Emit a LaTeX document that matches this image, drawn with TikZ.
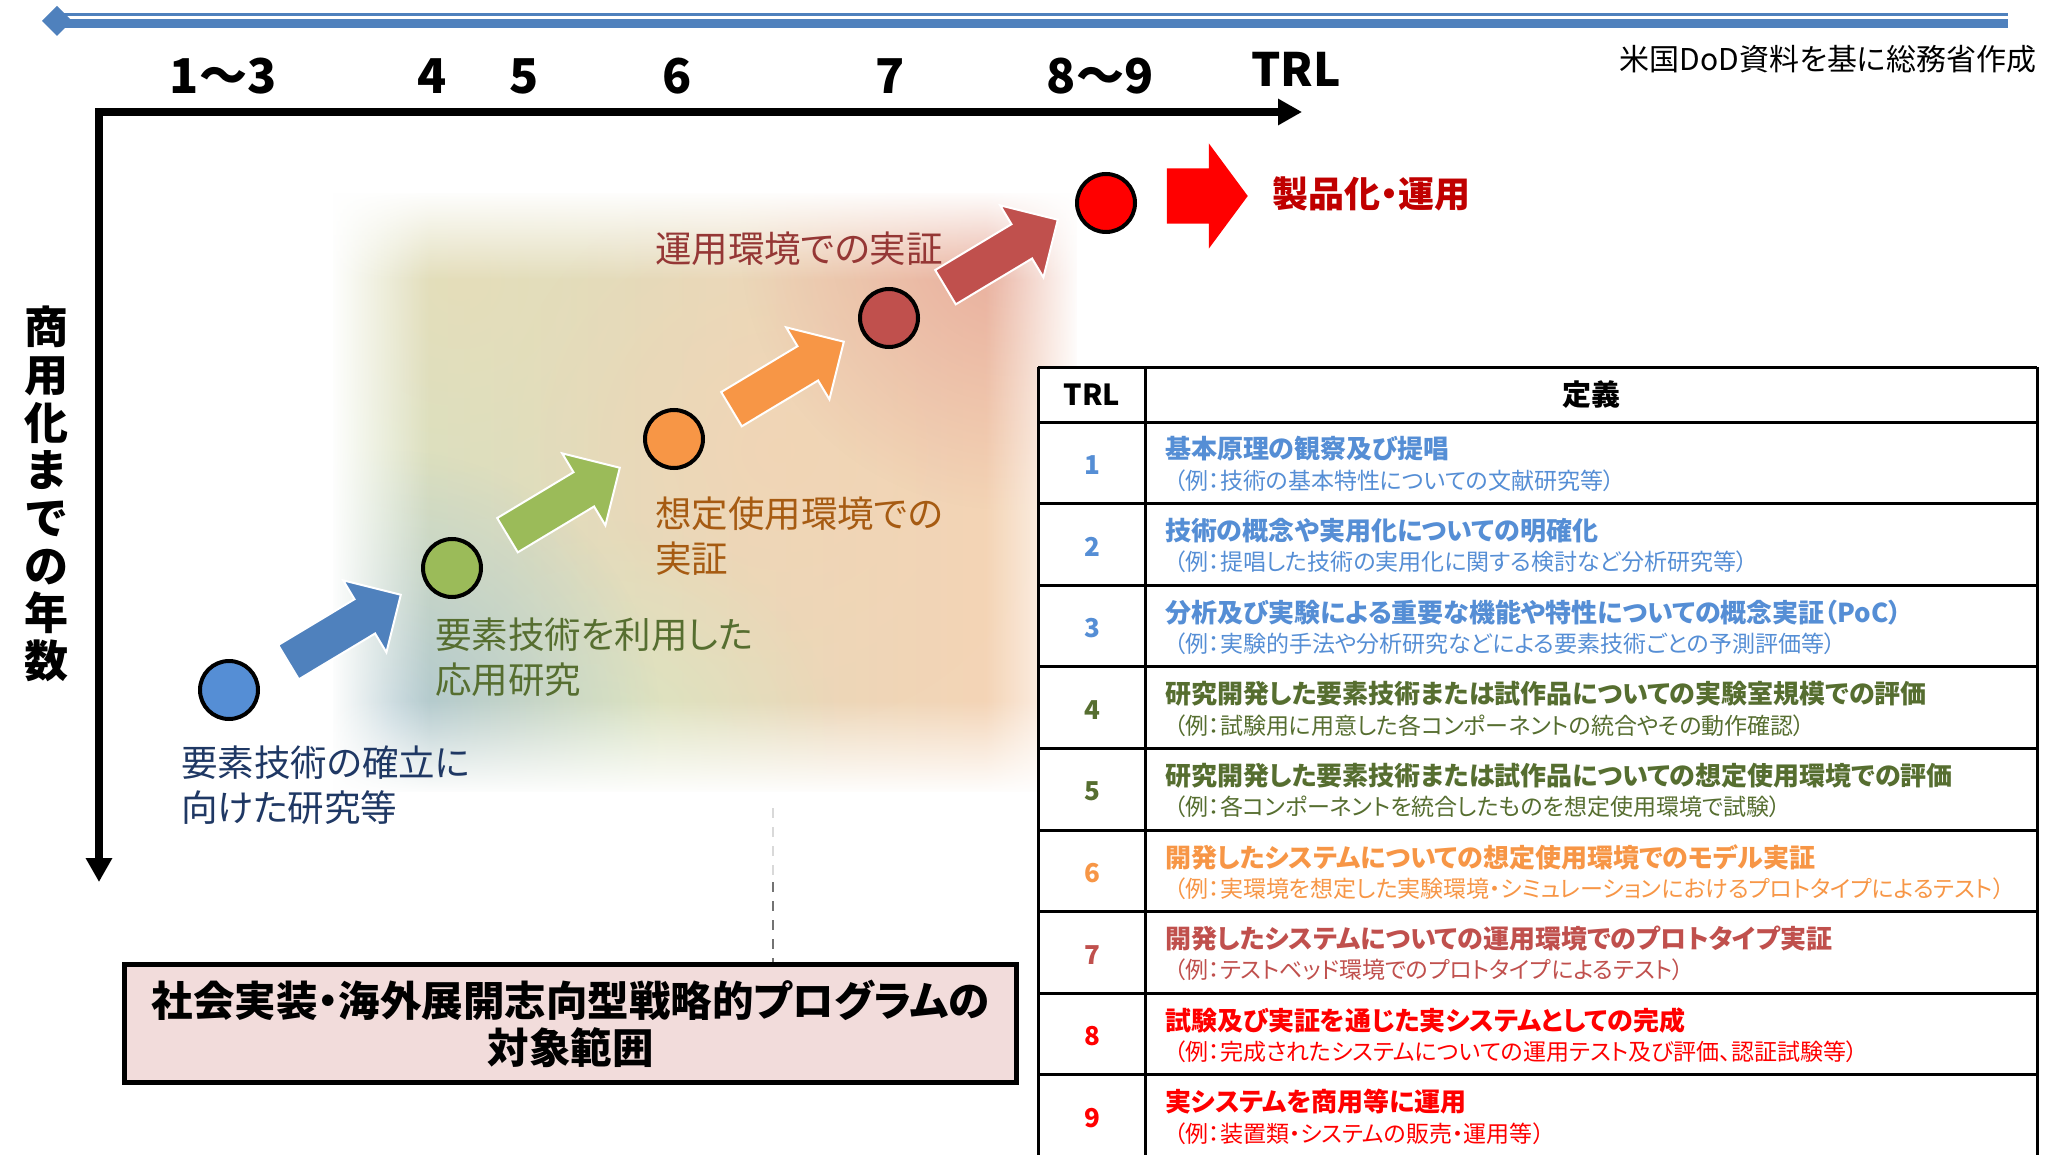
\documentclass[tikz,border=0pt]{standalone}
\usepackage{fontspec}
\setmainfont{Noto Sans CJK JP}[RawFeature=+palt]
\usetikzlibrary{arrows.meta,shapes.arrows,fadings}
\definecolor{accblue}{HTML}{4F81BD}
\definecolor{cblue}{HTML}{558ED5}
\definecolor{cgreen}{HTML}{9BBB59}
\definecolor{corange}{HTML}{F79646}
\definecolor{cdred}{HTML}{C0504D}
\definecolor{cred}{HTML}{FF0000}
\definecolor{tnavy}{HTML}{1F3864}
\definecolor{tolive}{HTML}{566E30}
\definecolor{tbrown}{HTML}{A65B12}
\definecolor{tdred}{HTML}{953735}
\definecolor{tprod}{HTML}{C00000}
\definecolor{boxpink}{HTML}{F2DCDB}
\definecolor{gL}{HTML}{D5E2C2}
\definecolor{gM}{HTML}{EEDCBC}
\definecolor{gR}{HTML}{F8D2B4}
\definecolor{gTL}{HTML}{E9DDB8}
\definecolor{gBL}{HTML}{AEC7D0}
\definecolor{gTR}{HTML}{E8AC9C}
\definecolor{gBC}{HTML}{DCE6C2}
\definecolor{gC}{HTML}{F4D4B4}
\tikzfading[name=fadeR, left color=transparent!0, right color=transparent!100]
\tikzfading[name=fadeL, left color=transparent!100, right color=transparent!0]
\tikzfading[name=fadeD, top color=transparent!0, bottom color=transparent!100]
\tikzfading[name=fadeU, top color=transparent!100, bottom color=transparent!0]
\tikzfading[name=blob, inner color=transparent!0, outer color=transparent!100]
\tikzfading[name=softblob, inner color=transparent!30, outer color=transparent!100]
\newcommand\myfs[2]{\fontsize{#1}{#2}\selectfont}
\newcommand\trlrow[4]{%
  \pgfmathsetmacro\rt{422+(#1-1)*81.6}%
  \node[numtxt, text=#2] (n#1) at (1092,\rt+43) {#1};
  \node[titletxt, text=#2] (t#1) at (1165,\rt+27) {#3};
  \node[subtxt, text=#2] (s#1) at (1174,\rt+58.5) {#4};
}
\begin{document}
\begin{tikzpicture}[x=1pt,y=-1pt,
  txt/.style={inner sep=0pt, outer sep=0pt},
  axisnum/.style={txt, font=\myfs{48}{48}\bfseries},
  stepcircle/.style={circle, draw=black, line width=4pt, minimum size=58pt, inner sep=0pt},
  steparrow/.style={single arrow, draw=white, line width=2pt, minimum height=131pt, minimum width=83pt,
     single arrow head extend=22pt, single arrow tip angle=90, inner xsep=0pt, inner ysep=19pt,
     anchor=tip, rotate=31},
  lbltxt/.style={txt, anchor=west, align=left, font=\myfs{36.5}{45}},
  numtxt/.style={txt, font=\myfs{26}{26}\bfseries},
  titletxt/.style={txt, anchor=west, font=\myfs{26}{26}\bfseries},
  subtxt/.style={txt, anchor=west, font=\myfs{23}{23}},
  tableline/.style={line width=3pt, black},
  axisline/.style={line width=8pt, line join=miter,
     {Triangle[length=24pt,width=25pt]}-{Triangle[length=24pt,width=25pt]}}
]
\useasboundingbox (0,0) rectangle (2053,1155);
\clip (0,0) rectangle (2053,1155);
\fill[white] (0,0) rectangle (2053,1155);

% soft coloured background
\begin{scope}
  \clip (330,190) rectangle (1080,795);
  \shade[left color=gL, middle color=gM, right color=gR] (330,190) rectangle (1080,795);
  \fill[gC, path fading=softblob] (780,450) circle (280);
  \fill[gBC, path fading=blob] (600,760) circle (240);
  \fill[gTL, path fading=softblob] (460,280) circle (240);
  \fill[gBL, path fading=blob] (390,720) circle (270);
  \fill[gTR, path fading=blob] (1010,240) circle (270);
\end{scope}
\fill[white, path fading=fadeR] (330,190) rectangle (430,795);
\fill[white, path fading=fadeL] (985,190) rectangle (1080,795);
\fill[white, path fading=fadeD] (330,190) rectangle (1080,280);
\fill[white, path fading=fadeU] (330,700) rectangle (1080,795);
\fill[white, even odd rule] (315,175) rectangle (1095,810) (333,193) rectangle (1077,792);

% top blue arrow
\draw[accblue, line width=2.5pt] (57,14.5) -- (2008,14.5);
\draw[accblue, line width=8.5pt] (57,23.5) -- (2008,23.5);
\fill[accblue] (42,21) -- (57,6) -- (72,21) -- (57,36) -- cycle;

% axes
\coordinate (origin) at (99,112);
\coordinate (xend) at (1302,112);
\coordinate (yend) at (99,882);
\draw[axisline, black!60, opacity=0.25, shift={(3pt,-4pt)}] (xend) -- (origin) -- (yend);
\draw[axisline, black] (xend) -- (origin) -- (yend);

\node[axisnum] (l13) at (223,76) {1～3};
\node[axisnum] (l4) at (432,76) {4};
\node[axisnum] (l5) at (524,76) {5};
\node[axisnum] (l6) at (677,76) {6};
\node[axisnum] (l7) at (890,76) {7};
\node[axisnum] (l89) at (1100,76) {8～9};
\node[txt, font=\myfs{46}{46}\bfseries] (ltrl) at (1296,69) {TRL};

\node[txt, font=\myfs{30}{30}, anchor=east] (src) at (2036,59) {米国DoD資料を基に総務省作成};

\node[txt, align=center, font=\myfs{44}{47.7}\bfseries] (ylab) at (46,494)
  {商\\用\\化\\ま\\で\\の\\年\\数};

% steps
\node[stepcircle, fill=cblue] (c1) at (229,690) {};
\node[stepcircle, fill=cgreen] (c2) at (452,568) {};
\node[stepcircle, fill=corange] (c3) at (674,439) {};
\node[stepcircle, fill=cdred] (c4) at (889,318) {};
\node[stepcircle, fill=cred] (c5) at (1106,203) {};

\node[steparrow, fill=accblue] (a1) at (402,594) {};
\node[steparrow, fill=cgreen] (a2) at (621,467) {};
\node[steparrow, fill=corange] (a3) at (845,341) {};
\node[steparrow, fill=cdred] (a4) at (1059,219) {};

\node[single arrow, fill=cred, inner xsep=0pt, inner ysep=27.5pt, minimum height=81pt, minimum width=105pt,
  single arrow head extend=25pt, single arrow tip angle=107, anchor=tip] (a5) at (1248,196) {};
\node[txt, anchor=west, text=tprod, font=\myfs{36}{36}\bfseries] (prod) at (1272,194) {製品化・運用};

\node[lbltxt, text=tnavy] (lab1) at (181,785.5) {要素技術の確立に\\向けた研究等};
\node[lbltxt, text=tolive] (lab2) at (435,657.5) {要素技術を利用した\\応用研究};
\node[lbltxt, text=tbrown] (lab3) at (655,536) {想定使用環境での\\実証};
\node[lbltxt, text=tdred] (lab4) at (655,249) {運用環境での実証};

% scope box
\node[draw=black, line width=5pt, fill=boxpink, minimum width=892pt, minimum height=118pt,
  align=center, font=\myfs{41.5}{47}\bfseries, inner sep=0pt] (scopebox) at (570.5,1023.5)
  {社会実装・海外展開志向型戦略的プログラムの\\対象範囲};
\coordinate (dtop) at (773,808);
\coordinate (dmid) at (773,882);
\draw[line width=2.5pt, black!15, dash pattern=on 10pt off 9pt] (dtop) -- (dmid);
\draw[line width=2.5pt, black!55, dash pattern=on 10pt off 9pt] (dmid) -- (dmid |- scopebox.north);

% table
\fill[white] (1038,367.5) rectangle (2037,1160);
\foreach \yy in {367.5,422,503.6,585.2,666.8,748.4,830,911.6,993.2,1074.8}
  \draw[tableline] (1038,\yy) -- (2037,\yy);
\draw[tableline] (1038,367.5) -- (1038,1160);
\draw[tableline] (1145,367.5) -- (1145,1160);
\draw[tableline] (2037,367.5) -- (2037,1160);
\node[txt, font=\myfs{29}{29}\bfseries] (hTRL) at (1092,395) {TRL};
\node[txt, font=\myfs{29}{29}\bfseries] (hDef) at (1591,395) {定義};

\trlrow{1}{cblue}{基本原理の観察及び提唱}{（例：技術の基本特性についての文献研究等）}
\trlrow{2}{cblue}{技術の概念や実用化についての明確化}{（例：提唱した技術の実用化に関する検討など分析研究等）}
\trlrow{3}{cblue}{分析及び実験による重要な機能や特性についての概念実証（PoC）}{（例：実験的手法や分析研究などによる要素技術ごとの予測評価等）}
\trlrow{4}{tolive}{研究開発した要素技術または試作品についての実験室規模での評価}{（例：試験用に用意した各コンポーネントの統合やその動作確認）}
\trlrow{5}{tolive}{研究開発した要素技術または試作品についての想定使用環境での評価}{（例：各コンポーネントを統合したものを想定使用環境で試験）}
\trlrow{6}{corange}{開発したシステムについての想定使用環境でのモデル実証}{（例：実環境を想定した実験環境・シミュレーションにおけるプロトタイプによるテスト）}
\trlrow{7}{cdred}{開発したシステムについての運用環境でのプロトタイプ実証}{（例：テストベッド環境でのプロトタイプによるテスト）}
\trlrow{8}{cred}{試験及び実証を通じた実システムとしての完成}{（例：完成されたシステムについての運用テスト及び評価、認証試験等）}
\trlrow{9}{cred}{実システムを商用等に運用}{（例：装置類・システムの販売・運用等）}
\end{tikzpicture}
\end{document}
